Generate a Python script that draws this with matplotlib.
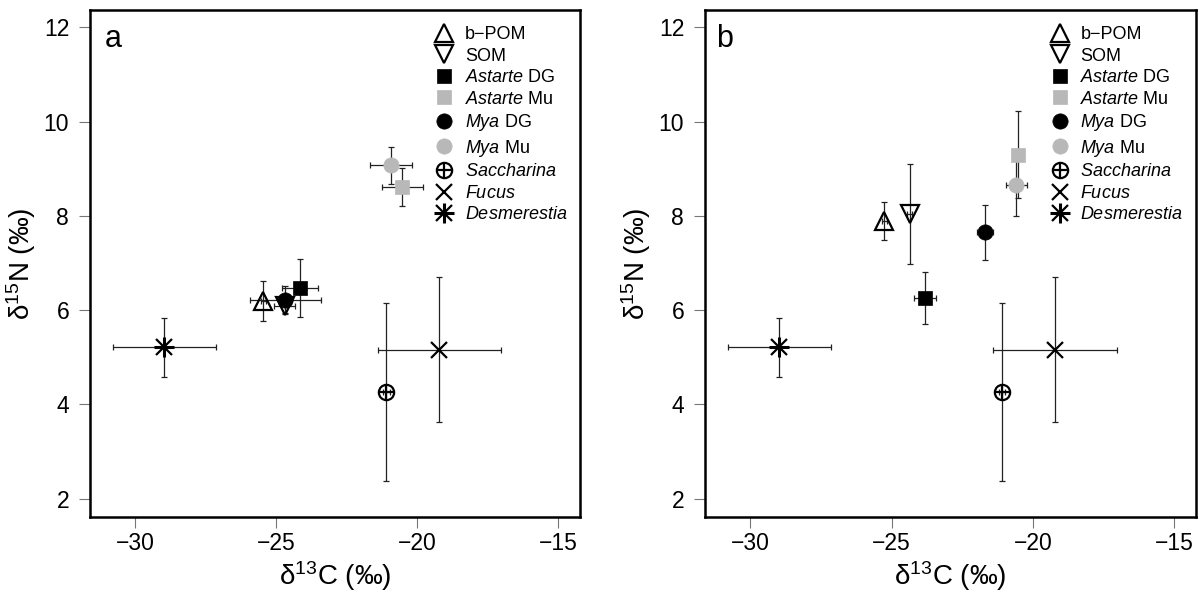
import matplotlib
matplotlib.use("Agg")
import matplotlib.pyplot as plt
from matplotlib.legend_handler import HandlerTuple

plt.rcParams['font.family'] = ['Liberation Sans', 'DejaVu Sans']
plt.rcParams['mathtext.fontset'] = 'custom'
plt.rcParams['mathtext.rm'] = 'Liberation Sans'
plt.rcParams['mathtext.it'] = 'Liberation Sans:italic'
plt.rcParams['mathtext.bf'] = 'Liberation Sans:bold'

# ---------------- data ----------------
names = ["b-POM", "SOM", "Astarte DG", "Astarte Mu", "Mya DG", "Mya Mu",
         "Saccharina", "Fucus", "Desmerestia"]
labels = ["b\u2212POM", "SOM", r"$\it{Astarte}$ DG", r"$\it{Astarte}$ Mu",
          r"$\it{Mya}$ DG", r"$\it{Mya}$ Mu", r"$\it{Saccharina}$",
          r"$\it{Fucus}$", r"$\it{Desmerestia}$"]

# panel a
a_x = [-25.45, -24.70, -24.15, -20.53, -24.67, -20.92, -21.09, -19.22, -28.97]
a_y = [6.19, 6.08, 6.47, 8.62, 6.22, 9.07, 4.27, 5.16, 5.21]
a_xerr = [0.10, 0.38, 0.65, 0.72, 1.25, 0.74, 0.12, 2.18, 1.83]
a_yerr = [0.42, 0.15, 0.62, 0.40, 0.30, 0.39, 1.89, 1.54, 0.62]

# panel b
b_x = [-25.25, -24.36, -23.81, -20.53, -21.69, -20.59, -21.09, -19.22, -28.97]
b_y = [7.89, 8.04, 6.26, 9.30, 7.65, 8.65, 4.27, 5.16, 5.21]
b_xerr = [0.10, 0.10, 0.39, 0.10, 0.29, 0.37, 0.12, 2.18, 1.83]
b_yerr = [0.41, 1.06, 0.56, 0.92, 0.58, 0.65, 1.89, 1.54, 0.62]

x_ticks = [-30, -25, -20, -15]
y_ticks = [2, 4, 6, 8, 10, 12]
panel_labels = ["a", "b"]

GREY = "#b8b8b8"
EW = 1.6

# marker styles: list of component dicts per series
styles = [
    [dict(marker='^', ms=13, mfc='none', mec='black', mew=EW)],
    [dict(marker='v', ms=13, mfc='none', mec='black', mew=EW)],
    [dict(marker='s', ms=10.5, mfc='black', mec='black', mew=0.5)],
    [dict(marker='s', ms=10.5, mfc=GREY, mec=GREY, mew=0.5)],
    [dict(marker='o', ms=11, mfc='black', mec='black', mew=0.5)],
    [dict(marker='o', ms=11, mfc=GREY, mec=GREY, mew=0.5)],
    [dict(marker='o', ms=11, mfc='none', mec='black', mew=EW),
     dict(marker='+', ms=11, mfc='none', mec='black', mew=EW)],
    [dict(marker='x', ms=12, mfc='none', mec='black', mew=EW)],
    [dict(marker='+', ms=15, mfc='none', mec='black', mew=2.2),
     dict(marker='x', ms=11, mfc='none', mec='black', mew=EW)],
]

fig = plt.figure(figsize=(12.04, 5.94), dpi=100)
W, H = 1204, 594
axes_px = [(90, 580), (705, 1196)]
top_px, bot_px = 10, 517

datasets = [(a_x, a_y, a_xerr, a_yerr), (b_x, b_y, b_xerr, b_yerr)]
label_x = [0.031, 0.022]

for i, (l, r) in enumerate(axes_px):
    ax = fig.add_axes([l / W, 1 - bot_px / H, (r - l) / W, (bot_px - top_px) / H])
    xs, ys, xe, ye = datasets[i]
    for k in range(len(names)):
        ax.errorbar(xs[k], ys[k], xerr=xe[k], yerr=ye[k], fmt='none',
                    ecolor='#222222', elinewidth=0.9, capsize=2.5,
                    capthick=0.9, zorder=2 + k * 0.01)
    handles = []
    for k in range(len(names)):
        comps = []
        for st in styles[k]:
            ln, = ax.plot([xs[k]], [ys[k]], linestyle='none', zorder=3 + k * 0.01,
                          marker=st['marker'], markersize=st['ms'],
                          markerfacecolor=st['mfc'], markeredgecolor=st['mec'],
                          markeredgewidth=st['mew'])
            comps.append(ln)
        handles.append(tuple(comps) if len(comps) > 1 else comps[0])

    ax.set_xlim(-31.6, -14.23)
    ax.set_ylim(1.61, 12.37)
    ax.set_xticks(x_ticks)
    ax.set_yticks(y_ticks)
    ax.set_xticklabels([f"\u2212{abs(t)}" for t in x_ticks])
    ax.tick_params(direction='out', length=8, width=0.8, color='#777777',
                   labelsize=16.5)
    ax.tick_params(axis='x', pad=2.5)
    ax.tick_params(axis='y', pad=7)
    for s in ax.spines.values():
        s.set_linewidth(1.8)
        s.set_color('black')
    ax.set_xlabel('\u03b4$^{13}$C (\u2030)', fontsize=20, labelpad=3)
    ax.set_ylabel('\u03b4$^{15}$N (\u2030)', fontsize=20, labelpad=4)
    ax.text(label_x[i], 0.927, panel_labels[i], transform=ax.transAxes,
            fontsize=22, va='baseline', ha='left')
    ax.legend(handles, labels, loc='upper left',
              bbox_to_anchor=(0.704, 0.968), frameon=False,
              fontsize=13, handlelength=1.0, handletextpad=0.65,
              labelspacing=0.25, borderpad=0, borderaxespad=0,
              handler_map={tuple: HandlerTuple(ndivide=1)})

fig.savefig('out.png', dpi=100)
